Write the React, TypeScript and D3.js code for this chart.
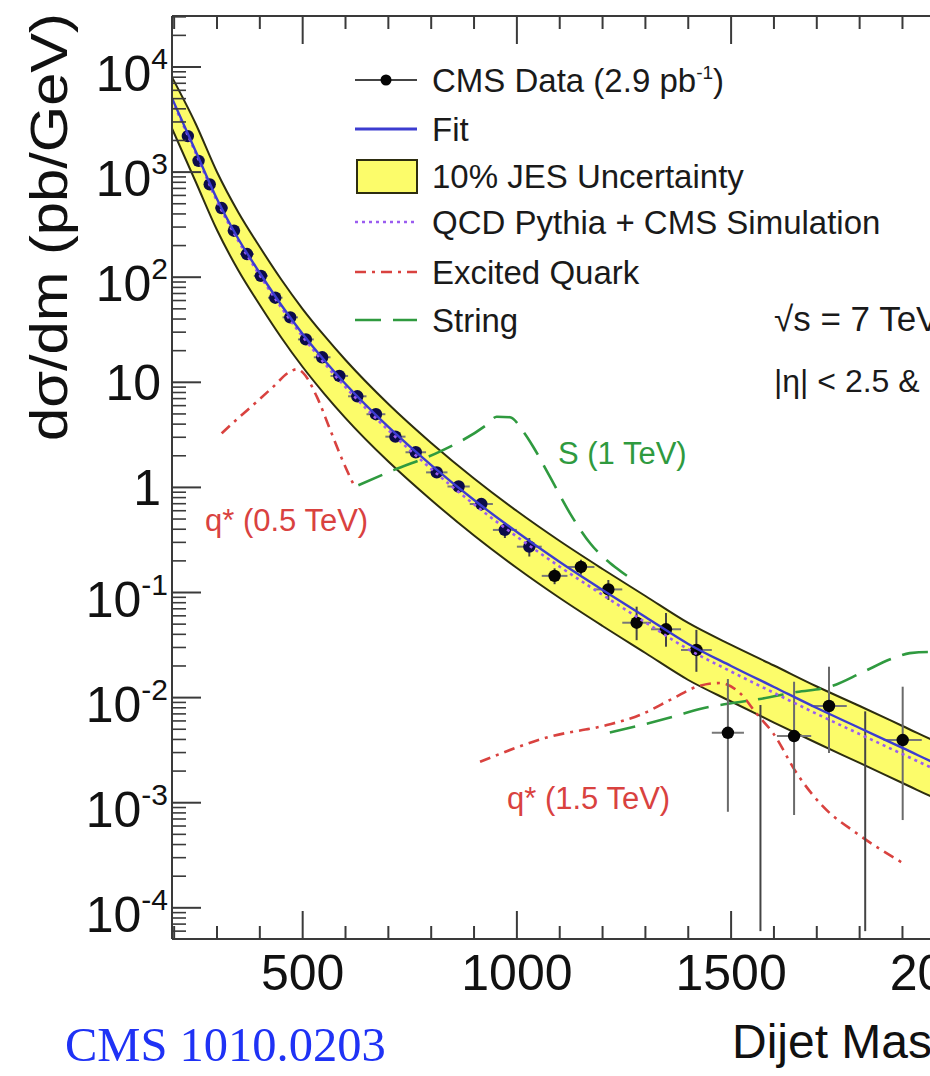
import React from "react";
import * as d3 from "d3";

// ---------- data ----------
const binEdges = [220, 244, 270, 296, 325, 354, 386, 419, 453, 489, 526, 565, 606, 649, 693, 740, 788, 838, 890, 944, 1000, 1058, 1118, 1181, 1246, 1313, 1383, 1455, 1530, 1607, 1687, 1770, 1856, 1945];
// 0 = empty bin (only an upper error bar is drawn)
const dataValues = [2200, 1280, 765, 455, 277, 166, 103, 63.8, 41.5, 25.6, 17.3, 11.5, 7.36, 4.97, 3.04, 2.16, 1.39, 1.02, 0.695, 0.394, 0.273, 0.144, 0.175, 0.107, 0.0516, 0.0447, 0.0284, 0.00463, 0, 0.00431, 0.00832, 0, 0.00395];
const dataErrHigh = [2230, 1300, 778, 463, 282, 169, 105, 65.3, 42.6, 26.4, 17.9, 12.0, 7.75, 5.3, 3.28, 2.36, 1.55, 1.15, 0.79, 0.46, 0.33, 0.17, 0.205, 0.1315, 0.0733, 0.0638, 0.0441, 0.01503, 0.0085, 0.01416, 0.01968, 0.0074, 0.0127];
const dataErrLow = [2170, 1260, 752, 447, 272, 163, 101, 62.3, 40.4, 24.8, 16.7, 11.0, 6.97, 4.65, 2.81, 1.97, 1.24, 0.9, 0.6, 0.33, 0.22, 0.12, 0.148, 0.0849, 0.0352, 0.0305, 0.0176, 0.00082, 0.00006, 0.000764, 0.00297, 0.00006, 0.000684];

const curveMass = [195, 250, 300, 350, 400, 450, 500, 550, 600, 700, 800, 900, 1000, 1100, 1200, 1300, 1400, 1500, 1600, 1700, 1800, 1900, 2000, 2100, 2200];
const fitValues = [5050, 1588, 555, 231, 109.6, 54.4, 28.8, 16.3, 9.63, 3.76, 1.63, 0.758, 0.376, 0.195, 0.1057, 0.0585, 0.0324, 0.02, 0.01262, 0.00796, 0.00514, 0.00332, 0.00214, 0.00141, 0.00093];
const qcdValues = [4850, 1530, 530, 221, 104, 51.5, 27.2, 15.3, 9.0, 3.5, 1.5, 0.69, 0.34, 0.176, 0.095, 0.052, 0.0288, 0.0177, 0.0111, 0.007, 0.0045, 0.0029, 0.00187, 0.00123, 0.00081];
const bandUpper = [8000, 2900, 1002, 413, 193.8, 95.1, 49.8, 27.9, 16.3, 6.22, 2.65, 1.216, 0.596, 0.309, 0.1675, 0.0927, 0.0513, 0.0317, 0.0202, 0.01276, 0.00832, 0.00537, 0.00346, 0.00229, 0.00151];
const bandLower = [2600, 814, 281, 115.8, 54.4, 26.7, 13.98, 7.82, 4.57, 1.763, 0.759, 0.3485, 0.171, 0.0886, 0.048, 0.02657, 0.01471, 0.00918, 0.00579, 0.0037, 0.00239, 0.00154, 0.000993, 0.000655, 0.000432];

const qStar05Mass = [311, 350, 393, 430, 470, 486, 501, 533, 564, 595, 622];
const qStar05Values = [3.27, 4.58, 6.53, 8.97, 12.6, 13.3, 12.3, 7.3, 3.55, 1.73, 1.0];
const qStar15Mass = [914, 1077, 1210, 1287, 1365, 1420, 1474, 1521, 1560, 1598, 1653, 1715, 1793, 1902];
const qStar15Values = [0.00245, 0.00425, 0.00548, 0.00683, 0.00985, 0.0127, 0.01377, 0.011, 0.00698, 0.0046, 0.00191, 0.000917, 0.000512, 0.000265];
const string1Mass = [630, 712, 820, 929, 953, 984, 1015, 1038, 1077, 1124, 1171, 1233, 1280];
const string1Values = [1.05, 1.46, 2.19, 3.93, 4.71, 4.65, 3.39, 2.44, 1.264, 0.567, 0.294, 0.17, 0.125];
const string2Mass = [1217, 1365, 1427, 1497, 1567, 1653, 1731, 1808, 1878, 1917, 1964, 2010, 2060, 2110];
const string2Values = [0.00466, 0.00658, 0.0078, 0.0088, 0.0097, 0.0113, 0.0127, 0.01754, 0.02367, 0.0265, 0.0272, 0.0272, 0.026, 0.023];

const xTickValues = [500, 1000, 1500, 2000];
const xTickLabels = ["500", "1000", "1500", "2000"];
const yTickValues = [1e-4, 1e-3, 1e-2, 1e-1, 1, 10, 100, 1000, 10000];
const yTickLabels = ["10^-4", "10^-3", "10^-2", "10^-1", "1", "10", "10^2", "10^3", "10^4"];

const legendLabels = ["CMS Data (2.9 pb^-1)", "Fit", "10% JES Uncertainty", "QCD Pythia + CMS Simulation", "Excited Quark", "String"];

// ---------- layout ----------
const W = 930;
const H = 1076;
const L = 172, T = 16, B = 939, R = 1031;
const SANS = "'Liberation Sans', Arial, Helvetica, sans-serif";

const COL = {
  axis: "#3a3a3a",
  band: "#fcfc6a",
  bandEdge: "#2d2d10",
  fit: "#3c3cd0",
  qcd: "#9a5cf0",
  red: "#d9423f",
  green: "#2f9a3f",
};

export default function App() {
  const x = d3.scaleLinear().domain([195, 2200]).range([L, R]);
  const y = d3.scaleLog().domain([5.05e-5, 30570]).range([B, T]);

  const line = d3
    .line<[number, number]>()
    .x((d) => x(d[0]))
    .y((d) => y(d[1]))
    .curve(d3.curveMonotoneX);
  const zip = (a: number[], b: number[]) => a.map((m, i) => [m, b[i]] as [number, number]);

  const area = d3
    .area<number>()
    .x((_, i) => x(curveMass[i]))
    .y0((_, i) => y(bandLower[i]))
    .y1((_, i) => y(bandUpper[i]))
    .curve(d3.curveMonotoneX);

  // minor ticks
  const xMinor: number[] = d3.range(200, 2201, 100).filter((v) => v % 500 !== 0);
  const yMinor: number[] = [];
  for (let e = -5; e <= 4; e++) {
    for (let k = 2; k <= 9; k++) {
      const v = k * Math.pow(10, e);
      if (v > 5.05e-5 && v < 30570) yMinor.push(v);
    }
  }

  const bins = dataValues.map((v, i) => ({
    lo: binEdges[i],
    hi: binEdges[i + 1],
    c: (binEdges[i] + binEdges[i + 1]) / 2,
    v,
    eh: dataErrHigh[i],
    el: dataErrLow[i],
  }));

  const renderYLabel = (lab: string, v: number, i: number) => {
    const ty = y(v);
    if (lab.includes("^")) {
      const [base, ex] = lab.split("^");
      return (
        <text key={"yl" + i} x={168} y={ty + 24} textAnchor="end" fontSize={50} fontFamily={SANS} fill="#111">
          <tspan>{base}</tspan>
          <tspan dy={-22} fontSize={30}>{ex}</tspan>
        </text>
      );
    }
    return (
      <text key={"yl" + i} x={161} y={ty + 18} textAnchor="end" fontSize={50} fontFamily={SANS} fill="#111">
        {lab}
      </text>
    );
  };

  const legY = [80, 129, 176, 222, 272, 320];
  const legX0 = 355, legX1 = 417, legText = 432;

  const renderLegendText = (lab: string, i: number) => {
    if (lab.includes("^")) {
      const [pre, rest] = lab.split("^");
      const ex = rest.replace(")", "");
      return (
        <text key={"lt" + i} x={legText} y={legY[i] + 12} fontSize={33} fontFamily={SANS} fill="#1a1a1a">
          <tspan>{pre}</tspan>
          <tspan dy={-13} fontSize={19}>{ex}</tspan>
          <tspan dy={13}>)</tspan>
        </text>
      );
    }
    return (
      <text key={"lt" + i} x={legText} y={legY[i] + 12} fontSize={33} fontFamily={SANS} fill="#1a1a1a">
        {lab}
      </text>
    );
  };

  return (
    <svg width={W} height={H} style={{ position: "absolute", left: 0, top: 0, background: "#fff" }}>
      <defs>
        <clipPath id="plotclip">
          <rect x={L} y={T} width={R - L} height={B - T} />
        </clipPath>
      </defs>
      <rect x={0} y={0} width={W} height={H} fill="#fff" />

      <g clipPath="url(#plotclip)">
        {/* JES band */}
        <path d={area(curveMass) || ""} fill={COL.band} stroke="none" />
        <path d={line(zip(curveMass, bandUpper)) || ""} fill="none" stroke={COL.bandEdge} strokeWidth={2} />
        <path d={line(zip(curveMass, bandLower)) || ""} fill="none" stroke={COL.bandEdge} strokeWidth={2} />

        {/* signals */}
        <path d={line(zip(qStar05Mass, qStar05Values)) || ""} fill="none" stroke={COL.red} strokeWidth={2.6} strokeDasharray="11,6,3,6" />
        <path d={line(zip(qStar15Mass, qStar15Values)) || ""} fill="none" stroke={COL.red} strokeWidth={2.6} strokeDasharray="11,6,3,6" />
        <path d={line(zip(string1Mass, string1Values)) || ""} fill="none" stroke={COL.green} strokeWidth={2.6} strokeDasharray="26,12" />
        <path d={line(zip(string2Mass, string2Values)) || ""} fill="none" stroke={COL.green} strokeWidth={2.6} strokeDasharray="26,12" />

        {/* data error bars */}
        {bins.map((b, i) => (
          <g key={"e" + i} stroke={b.v > 0 && b.v < 0.01 ? "#6a6a6a" : "#444"} strokeWidth={2}>
            {b.v > 0 && <line x1={x(b.lo)} x2={x(b.hi)} y1={y(b.v)} y2={y(b.v)} stroke="#777" />}
            <line x1={x(b.c)} x2={x(b.c)} y1={y(b.eh)} y2={y(b.el)} />
          </g>
        ))}
        {/* data points */}
        {bins.filter((b) => b.v > 0).map((b, i) => (
          <circle key={"p" + i} cx={x(b.c)} cy={y(b.v)} r={6.2} fill={b.c < 1060 ? "#0c0c48" : "#050505"} />
        ))}

        {/* QCD and fit */}
        <path d={line(zip(curveMass, qcdValues)) || ""} fill="none" stroke={COL.qcd} strokeWidth={2.6} strokeDasharray="3,4" />
        <path d={line(zip(curveMass, fitValues)) || ""} fill="none" stroke={COL.fit} strokeWidth={2.4} />
      </g>

      {/* frame */}
      <g stroke={COL.axis} strokeWidth={2} fill="none">
        <line x1={L} x2={R} y1={T} y2={T} />
        <line x1={L} x2={R} y1={B} y2={B} />
        <line x1={L} x2={L} y1={T} y2={B} />
      </g>

      {/* x ticks */}
      <g stroke={COL.axis} strokeWidth={2}>
        {xTickValues.map((v) => (
          <g key={"xm" + v}>
            <line x1={x(v)} x2={x(v)} y1={B} y2={B - 28} />
            <line x1={x(v)} x2={x(v)} y1={T} y2={T + 28} />
          </g>
        ))}
        {xMinor.map((v) => (
          <g key={"xn" + v}>
            <line x1={x(v)} x2={x(v)} y1={B} y2={B - 13} />
            <line x1={x(v)} x2={x(v)} y1={T} y2={T + 13} />
          </g>
        ))}
        {yTickValues.map((v) => (
          <line key={"ym" + v} x1={L} x2={L + 29} y1={y(v)} y2={y(v)} />
        ))}
        {yMinor.map((v, i) => (
          <line key={"yn" + i} x1={L} x2={L + 14} y1={y(v)} y2={y(v)} strokeWidth={1.6} />
        ))}
      </g>

      {/* tick labels */}
      {xTickValues.map((v, i) => (
        <text key={"xl" + v} x={x(v)} y={990} textAnchor="middle" fontSize={50} fontFamily={SANS} fill="#111">
          {xTickLabels[i]}
        </text>
      ))}
      {yTickValues.map((v, i) => renderYLabel(yTickLabels[i], v, i))}

      {/* axis titles */}
      <text
        transform="translate(67,227) rotate(-90)"
        textAnchor="middle"
        fontSize={51}
        fontFamily={SANS}
        fill="#111"
        textLength={428}
        lengthAdjust="spacingAndGlyphs"
      >
        dσ/dm (pb/GeV)
      </text>
      <text x={732} y={1058} fontSize={48} fontFamily={SANS} fill="#111">
        Dijet Mass (GeV)
      </text>

      {/* legend */}
      <g>
        <line x1={legX0} x2={legX1} y1={legY[0]} y2={legY[0]} stroke="#444" strokeWidth={2} />
        <circle cx={(legX0 + legX1) / 2} cy={legY[0]} r={5.5} fill="#050505" />
        <line x1={legX0} x2={legX1} y1={legY[1]} y2={legY[1]} stroke={COL.fit} strokeWidth={3} />
        <rect x={357} y={160} width={60} height={33} fill={COL.band} stroke={COL.bandEdge} strokeWidth={2} />
        <line x1={legX0} x2={legX1} y1={legY[3]} y2={legY[3]} stroke={COL.qcd} strokeWidth={2.6} strokeDasharray="3,4" />
        <line x1={legX0} x2={legX1} y1={legY[4]} y2={legY[4]} stroke={COL.red} strokeWidth={2.6} strokeDasharray="11,6,3,6" />
        <line x1={legX0} x2={legX1} y1={legY[5]} y2={legY[5]} stroke={COL.green} strokeWidth={2.6} strokeDasharray="26,12" />
        {legendLabels.map((lab, i) => renderLegendText(lab, i))}
      </g>

      {/* annotations */}
      <text x={774} y={331} fontSize={35} fontFamily={SANS} fill="#1a1a1a">√s = 7 TeV</text>
      <text x={774} y={392} fontSize={32} fontFamily={SANS} fill="#1a1a1a">|η| &lt; 2.5 &amp; |Δη| &lt; 1.3</text>
      <text x={205} y={531} fontSize={31} fontFamily={SANS} fill={COL.red}>q* (0.5 TeV)</text>
      <text x={558} y={464} fontSize={31} fontFamily={SANS} fill={COL.green}>S (1 TeV)</text>
      <text x={507} y={809} fontSize={31} fontFamily={SANS} fill={COL.red}>q* (1.5 TeV)</text>

      <text x={65} y={1061} fontSize={48.5} fontFamily="'Liberation Serif', 'Times New Roman', serif" fill="#1f32f5">
        CMS 1010.0203
      </text>
    </svg>
  );
}
